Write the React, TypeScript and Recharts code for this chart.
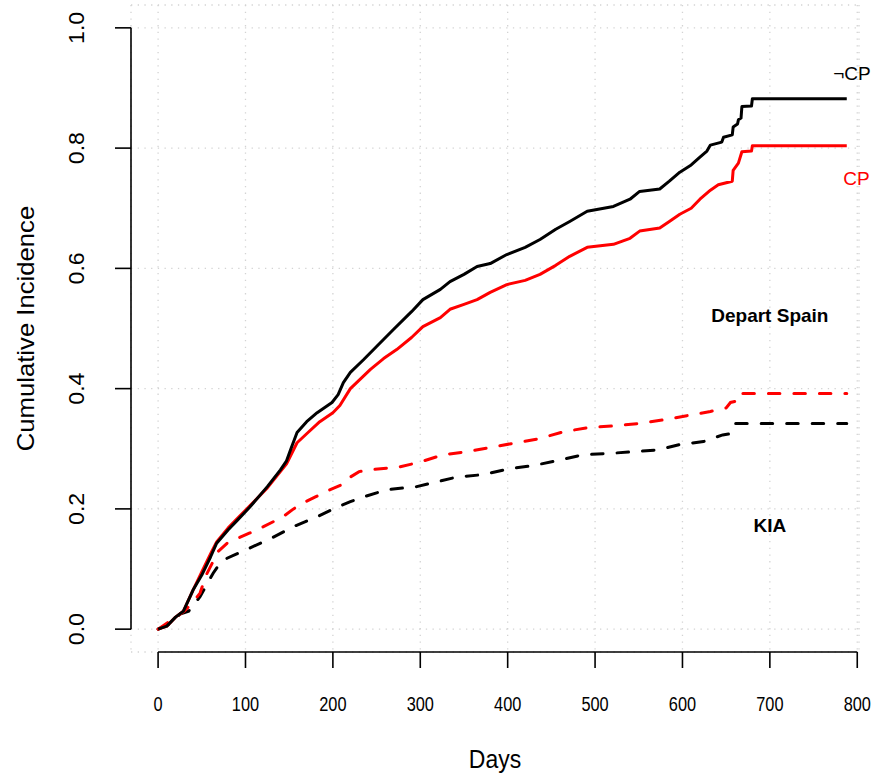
import React from 'react';
import { LineChart, Line, XAxis, YAxis, CartesianGrid, ReferenceLine, ReferenceDot } from 'recharts';

// ---- data (days, cumulative incidence) ----
const departNotCP = [
  [0, 0], [10, 0.005], [20, 0.02], [29, 0.03], [40, 0.065], [50, 0.09], [60, 0.12], [67, 0.143],
  [80, 0.165], [90, 0.18], [105, 0.203], [125, 0.237], [140, 0.265], [147, 0.28], [152, 0.3],
  [159, 0.327], [170, 0.345], [182, 0.36], [199, 0.377], [206, 0.39], [212, 0.41], [220, 0.427],
  [235, 0.448], [250, 0.47], [269, 0.498], [290, 0.528], [303, 0.548], [323, 0.565], [334, 0.578],
  [350, 0.59], [365, 0.603], [380, 0.608], [399, 0.623], [420, 0.635], [437, 0.648], [455, 0.665],
  [471, 0.678], [491, 0.695], [521, 0.703], [540, 0.715], [551, 0.728], [574, 0.732], [585, 0.745],
  [597, 0.76], [610, 0.772], [620, 0.785], [628, 0.795], [632, 0.805], [645, 0.81], [647, 0.818],
  [657, 0.822], [658, 0.835], [663, 0.84], [664, 0.847], [667, 0.85], [668, 0.869], [679, 0.87],
  [680, 0.882], [788, 0.882],
];
const departCP = [
  [0, 0], [10, 0.005], [20, 0.02], [29, 0.03], [40, 0.065], [50, 0.095], [60, 0.125], [67, 0.145],
  [80, 0.168], [90, 0.183], [105, 0.205], [125, 0.235], [147, 0.275], [159, 0.31], [170, 0.325],
  [185, 0.345], [200, 0.36], [208, 0.372], [220, 0.4], [243, 0.432], [258, 0.45], [273, 0.465],
  [290, 0.485], [303, 0.503], [323, 0.518], [334, 0.532], [350, 0.54], [365, 0.548], [380, 0.56],
  [399, 0.573], [420, 0.58], [437, 0.59], [455, 0.605], [471, 0.62], [491, 0.635], [521, 0.64],
  [540, 0.65], [551, 0.662], [574, 0.667], [585, 0.678], [597, 0.69], [610, 0.7], [620, 0.715],
  [632, 0.73], [641, 0.739], [657, 0.745], [658, 0.763], [664, 0.775], [668, 0.794], [679, 0.795],
  [680, 0.804], [788, 0.804],
];
const kiaCP = [
  [0, 0], [20, 0.02], [30, 0.03], [40, 0.045], [48, 0.06], [55, 0.09], [62, 0.11], [67, 0.127],
  [79, 0.143], [94, 0.153], [105, 0.16], [120, 0.17], [143, 0.187], [155, 0.2], [166, 0.21],
  [180, 0.22], [197, 0.232], [210, 0.24], [220, 0.253], [230, 0.262], [243, 0.265], [277, 0.27],
  [300, 0.278], [326, 0.29], [353, 0.295], [383, 0.303], [410, 0.31], [437, 0.317], [463, 0.328],
  [491, 0.335], [521, 0.338], [551, 0.342], [578, 0.348], [605, 0.355], [632, 0.362], [650, 0.368],
  [655, 0.377], [664, 0.38], [666, 0.392], [788, 0.392],
];
const kiaNotCP = [
  [0, 0], [15, 0.01], [25, 0.025], [35, 0.03], [48, 0.054], [56, 0.075], [63, 0.093], [70, 0.108],
  [79, 0.118], [90, 0.125], [105, 0.135], [120, 0.145], [132, 0.153], [154, 0.17], [182, 0.187],
  [205, 0.203], [220, 0.212], [235, 0.22], [262, 0.232], [296, 0.237], [319, 0.245], [342, 0.253],
  [372, 0.257], [403, 0.267], [429, 0.272], [456, 0.28], [486, 0.29], [514, 0.292], [543, 0.295],
  [571, 0.298], [597, 0.307], [624, 0.312], [646, 0.323], [655, 0.325], [660, 0.342], [788, 0.342],
];

const xTicks = [0, 100, 200, 300, 400, 500, 600, 700, 800];
const yTicks = [0, 0.2, 0.4, 0.6, 0.8, 1.0];
const xDomain = [-31, 802];
const yDomain = [-0.038, 1.038];

const annotations = [
  { text: '\u00ACCP', d: 794, v: 0.924, color: '#000000', bold: false },
  { text: 'CP', d: 799, v: 0.75, color: '#ff0000', bold: false },
  { text: 'Depart Spain', d: 700, v: 0.5216, color: '#000000', bold: true },
  { text: 'KIA', d: 700, v: 0.173, color: '#000000', bold: true },
];

const toRows = (arr: number[][]) => arr.map(([d, v]) => ({ d, v }));

const FONT = '"Liberation Sans", Arial, Helvetica, sans-serif';

const XTick = (props: any) => {
  const { x, y, payload } = props;
  return (
    <g transform={`translate(${x},${y + 43}) scale(0.86,1.05)`}>
      <text x={0} y={0} textAnchor="middle" fontSize={19} fontFamily={FONT} fill="#000">
        {String(payload.value)}
      </text>
    </g>
  );
};

const YTick = (props: any) => {
  const { x, y, payload } = props;
  return (
    <g transform={`translate(${x - 31},${y}) scale(1,1.05) rotate(-90)`}>
      <text x={0} y={0} textAnchor="middle" fontSize={22} fontFamily={FONT} fill="#000">
        {Number(payload.value).toFixed(1)}
      </text>
    </g>
  );
};

const XTitle = (props: any) => {
  const vb = props.viewBox;
  return (
    <g transform={`translate(${vb.x + vb.width / 2},${vb.y + 116}) scale(1,1.12)`}>
      <text x={0} y={0} textAnchor="middle" fontSize={23} fontFamily={FONT} fill="#000">Days</text>
    </g>
  );
};

const YTitle = (props: any) => {
  const vb = props.viewBox;
  return (
    <g transform={`translate(34,${vb.y + vb.height / 2}) scale(1,1.07) rotate(-90)`}>
      <text x={0} y={0} textAnchor="middle" fontSize={24} fontFamily={FONT} fill="#000">Cumulative Incidence</text>
    </g>
  );
};

export default function App() {
  return (
    <div style={{ position: 'absolute', left: 0, top: 0, width: 872, height: 774, background: '#fff' }}>
      <LineChart width={872} height={774} margin={{ top: 5, right: 13, bottom: 0, left: 0 }}>
        <CartesianGrid stroke="#d3d3d3" strokeWidth={1.3} strokeDasharray="1.3 5.4" />
        <XAxis
          type="number"
          dataKey="d"
          domain={xDomain}
          ticks={xTicks}
          allowDataOverflow
          height={122}
          axisLine={false}
          tickLine={{ stroke: '#000', strokeWidth: 1.6 }}
          tickSize={16}
          tickMargin={0}
          tick={<XTick />}
          interval={0}
          label={<XTitle />}
        />
        <YAxis
          type="number"
          dataKey="v"
          domain={yDomain}
          ticks={yTicks}
          allowDataOverflow
          width={131}
          axisLine={false}
          tickLine={{ stroke: '#000', strokeWidth: 1.6 }}
          tickSize={16}
          tickMargin={0}
          tick={<YTick />}
          interval={0}
          label={<YTitle />}
        />
        <ReferenceLine
          segment={[{ x: xTicks[0], y: yDomain[0] }, { x: xTicks[xTicks.length - 1], y: yDomain[0] }]}
          stroke="#000"
          strokeWidth={1.6}
          ifOverflow="visible"
        />
        <ReferenceLine
          segment={[{ x: xDomain[0], y: yTicks[0] }, { x: xDomain[0], y: yTicks[yTicks.length - 1] }]}
          stroke="#000"
          strokeWidth={1.6}
          ifOverflow="visible"
        />
        <Line data={toRows(kiaNotCP)} dataKey="v" type="linear" stroke="#000000" strokeWidth={3}
          strokeDasharray="11.5 14" strokeLinecap="round" dot={false} activeDot={false} isAnimationActive={false} />
        <Line data={toRows(kiaCP)} dataKey="v" type="linear" stroke="#ff0000" strokeWidth={3}
          strokeDasharray="11.5 14" strokeLinecap="round" dot={false} activeDot={false} isAnimationActive={false} />
        <Line data={toRows(departCP)} dataKey="v" type="linear" stroke="#ff0000" strokeWidth={3}
          strokeLinejoin="round" dot={false} activeDot={false} isAnimationActive={false} />
        <Line data={toRows(departNotCP)} dataKey="v" type="linear" stroke="#000000" strokeWidth={3}
          strokeLinejoin="round" dot={false} activeDot={false} isAnimationActive={false} />
        {annotations.map((a) => (
          <ReferenceDot
            key={a.text}
            x={a.d}
            y={a.v}
            r={0}
            fill="none"
            stroke="none"
            ifOverflow="visible"
            label={{
              value: a.text,
              position: 'center',
              fill: a.color,
              fontSize: 19,
              fontWeight: a.bold ? 'bold' : 'normal',
              fontFamily: FONT,
            }}
          />
        ))}
      </LineChart>
    </div>
  );
}
